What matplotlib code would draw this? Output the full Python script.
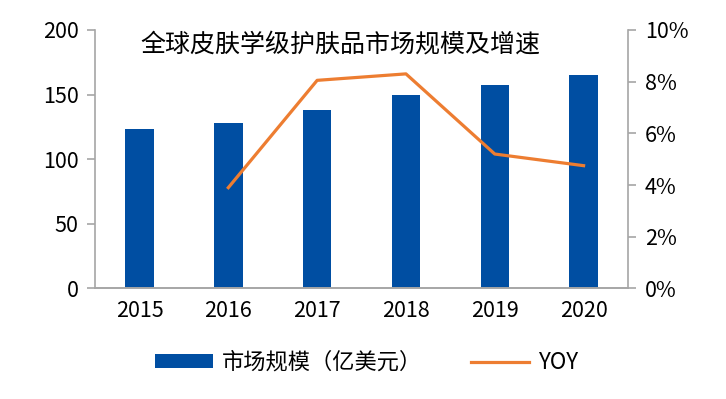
import matplotlib
matplotlib.use('Agg')
import matplotlib.pyplot as plt
from matplotlib.ticker import PercentFormatter

plt.rcParams['font.family'] = ['Liberation Sans Narrow', 'Noto Sans CJK SC', 'DejaVu Sans']

years = ['2015', '2016', '2017', '2018', '2019', '2020']
market_size = [123, 128, 138, 150, 157.5, 165]
yoy_years = ['2016', '2017', '2018', '2019', '2020']
yoy = [3.9, 8.05, 8.3, 5.2, 4.75]

title = '全球皮肤学级护肤品市场规模及增速'
bar_label = '市场规模（亿美元）'
line_label = 'YOY'

blue = '#004EA2'
orange = '#ED7D31'
grey = '#A6A6A6'

fig = plt.figure(figsize=(7.26, 3.99), dpi=100)
ax = fig.add_axes([0.131, 0.277, 0.734, 0.648])
x = list(range(len(years)))
bars = ax.bar(x, market_size, width=0.32, color=blue, label=bar_label, zorder=2)
ax.set_xlim(-0.5, len(years) - 0.5)
ax.set_ylim(0, 200)
ax.set_yticks([0, 50, 100, 150, 200])
ax.set_xticks(x)
ax.set_xticklabels(years)

ax2 = ax.twinx()
yoy_x = [years.index(y) for y in yoy_years]
line, = ax2.plot(yoy_x, yoy, color=orange, lw=2.3, label=line_label, zorder=3)
ax2.set_ylim(0, 10)
ax2.set_yticks([0, 2, 4, 6, 8, 10])
ax2.yaxis.set_major_formatter(PercentFormatter(decimals=0))

for a in (ax, ax2):
    a.spines['top'].set_visible(False)
    for s in ('left', 'right', 'bottom'):
        a.spines[s].set_color(grey)
        a.spines[s].set_linewidth(1.2)
    a.tick_params(axis='both', labelsize=15.5, color=grey, width=1.2, length=6)
ax.spines['right'].set_visible(False)
ax2.spines['left'].set_visible(False)
ax.tick_params(axis='x', length=0, pad=8)
ax.tick_params(axis='y', pad=6)
ax2.tick_params(axis='y', pad=6)

ax.text(0.46, 0.99, title, transform=ax.transAxes, ha='center', va='top',
        fontsize=18, family=['Noto Sans CJK SC', 'DejaVu Sans'])

leg = fig.legend([bars, line], [bar_label, line_label], loc='center',
                 bbox_to_anchor=(0.505, 0.092), ncol=2, frameon=False,
                 prop={'family': ['Noto Sans CJK SC', 'DejaVu Sans'], 'size': 16},
                 handlelength=2.6, handleheight=0.55, columnspacing=2.2, handletextpad=0.4)

fig.savefig('out.png', dpi=100)
